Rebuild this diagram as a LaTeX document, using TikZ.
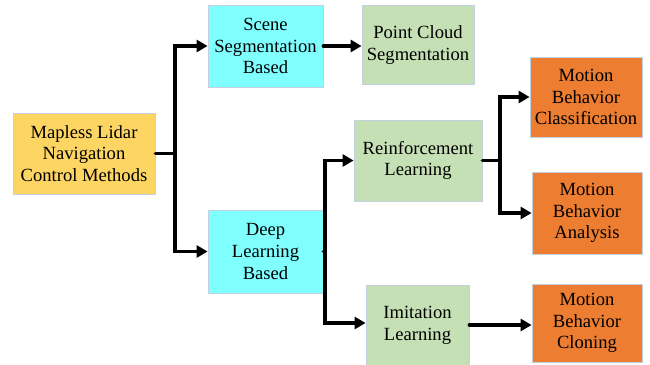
\documentclass[tikz,border=0pt]{standalone}
\usepackage{fontspec}
\setmainfont{Liberation Serif}
\usetikzlibrary{arrows.meta}

\definecolor{navyellow}{HTML}{FDD563}
\definecolor{basecyan}{HTML}{80FFFF}
\definecolor{stepgreen}{HTML}{C5E0B4}
\definecolor{motionorange}{HTML}{ED7D31}
\definecolor{boxline}{HTML}{C3D0DF}

\tikzset{
	box/.style={draw=boxline, line width=0.8pt, align=center, inner sep=1pt,
		font=\fontsize{18.6}{21.7}\selectfont},
	link/.style={line width=3.5pt, line cap=round},
	arrow/.style={link, -{Triangle[length=11pt,width=12pt]}},
}

\begin{document}
\begin{tikzpicture}[x=1pt,y=-1pt]
	\useasboundingbox (0,0) rectangle (650,364);
	% boxes
	\node[box, fill=navyellow, minimum width=142, minimum height=81] at (84, 153.5) (nav) {Mapless Lidar\\Navigation\\Control Methods};
	\node[box, fill=basecyan, minimum width=115, minimum height=82] at (265.5, 46) (scene) {Scene\\Segmentation\\Based};
	\node[box, fill=basecyan, minimum width=115, minimum height=83] at (265.5, 251.5) (deep) {Deep\\Learning\\Based};
	\node[box, fill=stepgreen, minimum width=112, minimum height=79] at (418, 45) (cloud) {Point Cloud\\Segmentation};
	\node[box, fill=stepgreen, minimum width=128, minimum height=81] at (418, 160.5) (reinf) {Reinforcement\\Learning};
	\node[box, fill=stepgreen, minimum width=103, minimum height=80] at (417.5, 325) (imit) {Imitation\\Learning};
	\node[box, fill=motionorange, minimum width=112, minimum height=80] at (586, 97) (classif) {Motion\\Behavior\\Classification};
	\node[box, fill=motionorange, minimum width=110, minimum height=82] at (587, 213) (analysis) {Motion\\Behavior\\Analysis};
	\node[box, fill=motionorange, minimum width=110, minimum height=78] at (587, 323) (cloning) {Motion\\Behavior\\Cloning};
	% bus points
	\coordinate (b1) at (175, 153.5);
	\coordinate (b2) at (325, 251.5);
	\coordinate (b3) at (500, 160.5);
	% connectors
	\draw[link] (nav.east) -- (b1);
	\draw[arrow] (b1) |- (scene.west);
	\draw[arrow] (b1) |- (deep.west);
	\draw[arrow] (scene.east) -- (scene.east -| cloud.west);
	%
	\draw[link] (deep.east) -- (b2);
	\draw[arrow] (b2) |- (reinf.west);
	\draw[arrow] (b2) |- ([yshift=2]imit.west);
	%
	\draw[link] (reinf.east) -- (b3);
	\draw[arrow] (b3) |- (classif.west);
	\draw[arrow] (b3) |- (analysis.west);
	\draw[arrow] (imit.east) -- (imit.east -| cloning.west);
\end{tikzpicture}
\end{document}
